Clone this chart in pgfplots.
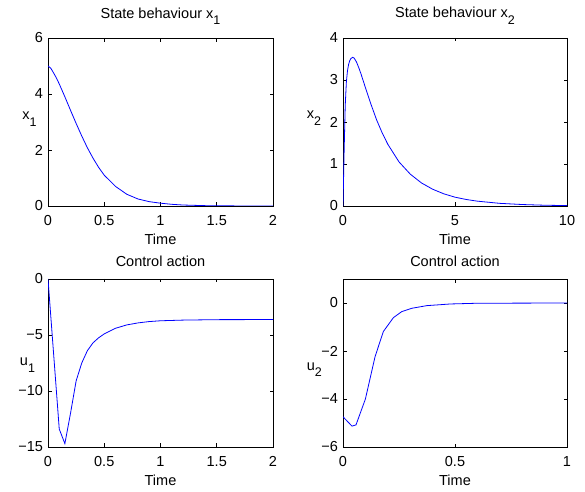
\documentclass[border=0pt]{standalone}
\usepackage{pgfplots}
\pgfplotsset{compat=1.18}
\usepackage{fontspec}
\setmainfont{Liberation Sans}
\newcommand\sub[1]{\raisebox{-6.5bp}{\fontsize{12.5bp}{14bp}\selectfont #1}}
\definecolor{mblue}{rgb}{0,0,1}
\pgfplotsset{
  mstyle/.style={
    scale only axis, height=168bp,
    axis line style={line width=0.6bp, black},
    tick align=inside, major tick length=3.5bp,
    tick style={line width=0.6bp, black},
    /pgf/number format/assume math mode=true,
    every axis title/.style={at={(0.5,1)}, anchor=base, yshift=20bp},
    every axis x label/.style={at={(axis description cs:0.5,0)}, anchor=base, yshift=-39bp},
    every axis y label/.style={anchor=base west},
    xticklabel style={yshift=-4bp},
    enlargelimits=false,
    clip=true,
    xlabel={Time},
  },
  mline/.style={mblue, line width=0.8bp, no marks},
}
\begin{document}
\fontsize{14.5bp}{17bp}\selectfont
\begin{tikzpicture}
\useasboundingbox (0,0) rectangle (585bp,492bp);
% top-left
\begin{axis}[mstyle, width=225bp, at={(48bp,286bp)}, anchor=south west,
  xmin=0, xmax=2, ymin=0, ymax=6,
  xtick={0,0.5,1,1.5,2}, ytick={0,2,4,6},
  title={State behaviour x\sub{1}},
  ylabel={x\sub{1}}, ylabel style={at={(axis description cs:-0.136,0.512)}}]
\addplot[mline] coordinates {
(0,5.00) (0.025,4.92) (0.05,4.75) (0.075,4.57) (0.1,4.36) (0.15,3.90) (0.2,3.42) (0.25,2.95) (0.3,2.50)
(0.35,2.08) (0.4,1.71) (0.45,1.38) (0.5,1.10) (0.6,0.70) (0.7,0.42) (0.8,0.25)
(0.9,0.155) (1.0,0.10) (1.1,0.06) (1.2,0.035) (1.4,0.012) (1.6,0.004) (2.0,0.0)};
\end{axis}
% top-right
\begin{axis}[mstyle, width=224bp, at={(343bp,286bp)}, anchor=south west,
  xmin=0, xmax=10, ymin=0, ymax=4,
  xtick={0,5,10}, ytick={0,1,2,3,4},
  title={State behaviour x\sub{2}},
  ylabel={x\sub{2}}, ylabel style={at={(axis description cs:-0.184,0.518)}}]
\addplot[mline] coordinates {
(0,0) (0.05,1.3) (0.1,2.4) (0.15,2.95) (0.2,3.22) (0.25,3.37) (0.3,3.46) (0.35,3.51)
(0.43,3.54) (0.5,3.52) (0.6,3.43) (0.7,3.30) (0.8,3.15) (1.0,2.82) (1.25,2.42)
(1.5,2.05) (1.75,1.74) (2.0,1.47) (2.5,1.05) (3.0,0.76) (3.5,0.55) (4.0,0.40)
(4.5,0.29) (5.0,0.21) (5.5,0.155) (6.0,0.115) (7.0,0.063) (8.0,0.035) (9.0,0.018) (10.0,0.01)};
\end{axis}
% bottom-left
\begin{axis}[mstyle, width=225bp, at={(48bp,45bp)}, anchor=south west,
  xmin=0, xmax=2, ymin=-15, ymax=0,
  xtick={0,0.5,1,1.5,2}, ytick={-15,-10,-5,0}, yticklabels={−15,−10,−5,0},
  every axis title/.style={at={(0.5,1)}, anchor=base, yshift=12.6bp},
  title={Control action},
  ylabel={u\sub{1}}, ylabel style={at={(axis description cs:-0.147,0.484)}}]
\addplot[mline] coordinates {
(0,0) (0.05,-6.7) (0.1,-13.4) (0.15,-14.7) (0.2,-12.0) (0.25,-9.1) (0.3,-7.5)
(0.35,-6.4) (0.4,-5.7) (0.45,-5.25) (0.5,-4.9) (0.6,-4.4) (0.7,-4.1) (0.8,-3.92)
(0.9,-3.8) (1.0,-3.73) (1.2,-3.67) (1.5,-3.63) (2.0,-3.62)};
\end{axis}
% bottom-right
\begin{axis}[mstyle, width=224bp, at={(343bp,45bp)}, anchor=south west,
  xmin=0, xmax=1, ymin=-6, ymax=1,
  xtick={0,0.5,1}, ytick={-6,-4,-2,0}, yticklabels={−6,−4,−2,0},
  every axis title/.style={at={(0.5,1)}, anchor=base, yshift=12.6bp},
  title={Control action},
  ylabel={u\sub{2}}, ylabel style={at={(axis description cs:-0.184,0.457)}}]
\addplot[mline] coordinates {
(0,-4.74) (0.04,-5.13) (0.058,-5.08) (0.1,-4.0) (0.143,-2.24) (0.18,-1.19)
(0.225,-0.61) (0.262,-0.36) (0.307,-0.22) (0.374,-0.11) (0.48,-0.04) (0.6,-0.01) (1.0,0)};
\end{axis}
\end{tikzpicture}
\end{document}
